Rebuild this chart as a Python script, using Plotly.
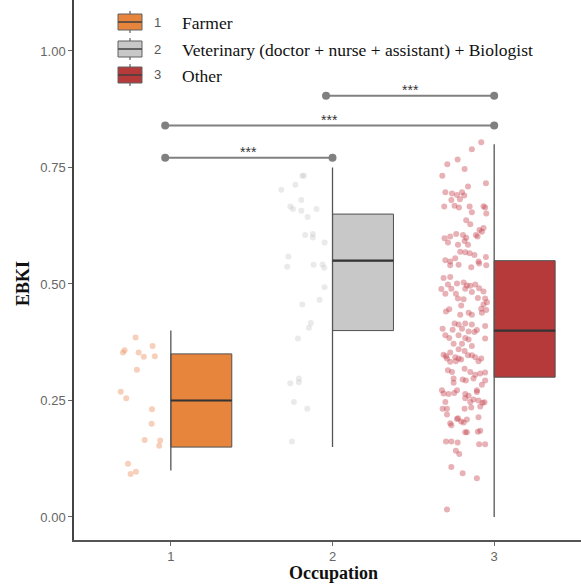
import plotly.graph_objects as go

# ---------------- data ----------------
categories = [1, 2, 3]
tick_labels = ["1", "2", "3"]
group_names = ["Farmer", "Veterinary (doctor + nurse + assistant) + Biologist", "Other"]

q1 = [0.15, 0.40, 0.30]
median = [0.25, 0.55, 0.40]
q3 = [0.35, 0.65, 0.55]
lower = [0.10, 0.15, 0.00]
upper = [0.40, 0.75, 0.80]

# jittered raw points: offset from category position, and EBKI value
g1_jit = [-0.218, -0.286, -0.296, -0.199, -0.167, -0.113, -0.099, -0.210, -0.310, -0.276,
          -0.117, -0.119, -0.162, -0.066, -0.072, -0.265, -0.216, -0.249]
g1_val = [0.385, 0.358, 0.353, 0.353, 0.344, 0.367, 0.345, 0.316, 0.269, 0.255,
          0.231, 0.200, 0.165, 0.164, 0.153, 0.114, 0.097, 0.092]

g2_jit = [-0.187, -0.177, -0.230, -0.317, -0.193, -0.261, -0.245, -0.193, -0.099, -0.154,
          -0.169, -0.122, -0.122, -0.049, -0.273, -0.280, -0.117, -0.062, -0.051, -0.049,
          -0.080, -0.187, -0.134, -0.146, -0.214, -0.208, -0.208, -0.261, -0.239, -0.156,
          -0.251]
g2_val = [0.732, 0.732, 0.713, 0.702, 0.680, 0.666, 0.661, 0.657, 0.661, 0.644,
          0.605, 0.607, 0.600, 0.589, 0.559, 0.537, 0.541, 0.542, 0.535, 0.493,
          0.466, 0.456, 0.416, 0.406, 0.383, 0.297, 0.289, 0.287, 0.247, 0.232,
          0.162]

g3_jit = [-0.080, -0.138, -0.226, -0.290, -0.183, -0.321, -0.051, -0.162, -0.302, -0.261,
          -0.230, -0.199, -0.185, -0.212, -0.265, -0.309, -0.245, -0.218, -0.152, -0.138,
          -0.066, -0.056, -0.049, -0.173, -0.148, -0.091, -0.307, -0.286, -0.272, -0.235,
          -0.193, -0.173, -0.183, -0.113, -0.103, -0.076, -0.066, -0.224, -0.162, -0.210,
          -0.179, -0.152, -0.122, -0.302, -0.272, -0.241, -0.097, -0.051,
          -0.272, -0.220, -0.142, -0.093, -0.049, -0.313, -0.272, -0.286, -0.230, -0.189,
          -0.169, -0.148, -0.117, -0.093, -0.327, -0.265, -0.179, -0.302, -0.237, -0.138,
          -0.066, -0.224, -0.189, -0.101, -0.056, -0.045, -0.204, -0.066, -0.080, -0.049,
          -0.298, -0.278, -0.210, -0.158, -0.138, -0.076, -0.245, -0.220, -0.179, -0.138,
          -0.199, -0.319, -0.257, -0.158, -0.122, -0.107, -0.056, -0.302, -0.278, -0.220,
          -0.179, -0.158, -0.056, -0.251, -0.199, -0.138, -0.220, -0.183, -0.313, -0.292,
          -0.298, -0.272, -0.241, -0.220, -0.204, -0.162, -0.138, -0.117, -0.097, -0.080,
          -0.272, -0.237, -0.286, -0.261, -0.183, -0.148, -0.117, -0.086, -0.056, -0.251,
          -0.195, -0.175, -0.128, -0.056, -0.251, -0.076, -0.323, -0.230, -0.107,
          -0.313, -0.282, -0.247, -0.179, -0.158, -0.107, -0.179, -0.128, -0.148, -0.097,
          -0.072, -0.060, -0.302, -0.086, -0.142, -0.183, -0.319, -0.292, -0.292, -0.224,
          -0.230, -0.204, -0.169, -0.272, -0.265, -0.189, -0.097, -0.179, -0.169, -0.101,
          -0.086, -0.298, -0.265, -0.226, -0.093, -0.056, -0.237, -0.216, -0.265, -0.195,
          -0.107, -0.292]
g3_val = [0.804, 0.789, 0.767, 0.757, 0.747, 0.732, 0.716, 0.709, 0.697, 0.694,
          0.691, 0.697, 0.690, 0.682, 0.680, 0.666, 0.668, 0.664, 0.666, 0.654,
          0.667, 0.664, 0.651, 0.637, 0.628, 0.616, 0.598, 0.589, 0.602, 0.607,
          0.605, 0.599, 0.592, 0.605, 0.602, 0.612, 0.620, 0.584, 0.584, 0.569,
          0.568, 0.566, 0.562, 0.551, 0.548, 0.555, 0.548, 0.558,
          0.540, 0.541, 0.536, 0.544, 0.540, 0.513, 0.515, 0.499, 0.501, 0.503,
          0.497, 0.496, 0.499, 0.491, 0.489, 0.490, 0.490, 0.479, 0.479, 0.483,
          0.484, 0.469, 0.467, 0.470, 0.469, 0.461, 0.454, 0.456, 0.447, 0.444,
          0.441, 0.446, 0.434, 0.438, 0.434, 0.438, 0.415, 0.413, 0.415, 0.413,
          0.404, 0.404, 0.402, 0.398, 0.397, 0.401, 0.410, 0.390, 0.384, 0.390,
          0.384, 0.381, 0.383, 0.372, 0.372, 0.367, 0.360, 0.356, 0.348, 0.340,
          0.345, 0.353, 0.343, 0.340, 0.338, 0.347, 0.347, 0.343, 0.334, 0.340,
          0.333, 0.334, 0.315, 0.311, 0.318, 0.311, 0.305, 0.308, 0.310, 0.297,
          0.295, 0.293, 0.297, 0.293, 0.288, 0.284, 0.272, 0.272, 0.272,
          0.265, 0.264, 0.266, 0.264, 0.260, 0.268, 0.255, 0.252, 0.247, 0.250,
          0.245, 0.246, 0.247, 0.237, 0.235, 0.232, 0.232, 0.232, 0.220, 0.212,
          0.210, 0.205, 0.209, 0.201, 0.197, 0.203, 0.214, 0.182, 0.182, 0.183,
          0.185, 0.162, 0.162, 0.160, 0.156, 0.156, 0.142, 0.135, 0.107, 0.094,
          0.083, 0.016]

# significance comparisons: (start, end, height, label)
comp_start = [0.965, 0.965, 1.96]
comp_end = [2.0, 3.0, 3.0]
comp_y = [0.771, 0.840, 0.904]
comp_label = ["***", "***", "***"]

# ---------------- styles ----------------
box_fill = ["#E8853D", "#C8C8C8", "#B63A3A"]
point_col = ["rgba(238,150,105,0.45)", "rgba(195,195,195,0.35)", "rgba(196,60,72,0.40)"]
box_width = 0.377

jits = [g1_jit, g2_jit, g3_jit]
vals = [g1_val, g2_val, g3_val]

fig = go.Figure()

for i, c in enumerate(categories):
    # jittered points
    fig.add_trace(go.Scatter(
        x=[c + j for j in jits[i]], y=vals[i], mode="markers",
        marker=dict(size=6, color=point_col[i], line=dict(width=0)),
        showlegend=False, hoverinfo="skip"))
    # whisker along left edge of the box
    fig.add_trace(go.Scatter(
        x=[c, c], y=[lower[i], upper[i]], mode="lines",
        line=dict(color="#555555", width=1.3), showlegend=False, hoverinfo="skip"))
    # half box drawn to the right of the category
    fig.add_trace(go.Box(
        x=[c + box_width / 2], q1=[q1[i]], median=[median[i]], q3=[q3[i]],
        lowerfence=[q1[i]], upperfence=[q3[i]], width=box_width,
        fillcolor=box_fill[i], line=dict(color="#505050", width=1),
        whiskerwidth=0, boxpoints=False, showlegend=False, hoverinfo="skip"))
    # thicker median line
    fig.add_trace(go.Scatter(
        x=[c, c + box_width], y=[median[i], median[i]], mode="lines",
        line=dict(color="#333333", width=2.2), showlegend=False, hoverinfo="skip"))

# significance brackets
for s, e, h, lab in zip(comp_start, comp_end, comp_y, comp_label):
    fig.add_trace(go.Scatter(
        x=[s, e], y=[h, h], mode="lines+markers",
        line=dict(color="#808080", width=2),
        marker=dict(size=8, color="#808080"),
        showlegend=False, hoverinfo="skip"))
    fig.add_annotation(x=(s + e) / 2, y=h, text=lab, showarrow=False,
                       yanchor="bottom", yshift=-4,
                       font=dict(family="Liberation Sans, Arial", size=14, color="#333333"))

# ---------------- layout ----------------
W, H = 581, 585
L, R, T, B = 74, 0, 0, 45
PW, PH = W - L - R, H - T - B


def px(xp):
    return (xp - L) / PW


def py(yp):
    return (H - B - yp) / PH


# manual legend (top-left)
row_y = [22, 49, 75]
shapes = []
for i in range(3):
    cy = row_y[i]
    shapes.append(dict(type="line", xref="paper", yref="paper",
                       x0=px(130), x1=px(130), y0=py(cy - 11), y1=py(cy + 11),
                       line=dict(color="#606060", width=1.2)))
    shapes.append(dict(type="rect", xref="paper", yref="paper",
                       x0=px(118), x1=px(142), y0=py(cy - 8), y1=py(cy + 8),
                       fillcolor=box_fill[i], line=dict(color="#606060", width=1)))
    shapes.append(dict(type="line", xref="paper", yref="paper",
                       x0=px(118), x1=px(142), y0=py(cy), y1=py(cy),
                       line=dict(color="#404040", width=1.5)))
    fig.add_annotation(xref="paper", yref="paper", x=px(157), y=py(cy),
                       text=tick_labels[i], showarrow=False, xanchor="center", yanchor="middle",
                       font=dict(family="Liberation Sans, Arial", size=13, color="#555555"))
    fig.add_annotation(xref="paper", yref="paper", x=px(180), y=py(cy + 1),
                       text=group_names[i], showarrow=False, xanchor="left", yanchor="middle",
                       font=dict(family="Liberation Serif, Times New Roman", size=17.5, color="#111111"))

# axis titles
fig.add_annotation(xref="paper", yref="paper", x=px(333), y=py(573),
                   text="<b>Occupation</b>", showarrow=False, xanchor="center", yanchor="middle",
                   font=dict(family="Liberation Serif, Times New Roman", size=18, color="#111111"))
fig.add_annotation(xref="paper", yref="paper", x=px(23), y=py(284),
                   text="<b>EBKI</b>", showarrow=False, textangle=-90,
                   xanchor="center", yanchor="middle",
                   font=dict(family="Liberation Serif, Times New Roman", size=18, color="#111111"))

fig.update_layout(
    width=W, height=H,
    margin=dict(l=L, r=R, t=T, b=B, pad=0),
    paper_bgcolor="white", plot_bgcolor="white",
    shapes=shapes,
    showlegend=False,
    xaxis=dict(range=[0.401, 3.537], tickvals=categories, ticktext=tick_labels,
               showline=True, linecolor="#555555", linewidth=1.5,
               ticks="outside", ticklen=4, tickcolor="#666666",
               showgrid=False, zeroline=False,
               tickfont=dict(family="Liberation Sans, Arial", size=13, color="#666666")),
    yaxis=dict(range=[-0.0494, 1.1094], tickvals=[0, 0.25, 0.5, 0.75, 1.0],
               ticktext=["0.00", "0.25", "0.50", "0.75", "1.00"],
               showline=True, linecolor="#444444", linewidth=1.5,
               ticks="outside", ticklen=4, tickcolor="#666666",
               showgrid=False, zeroline=False,
               tickfont=dict(family="Liberation Sans, Arial", size=13, color="#666666")),
)

fig.write_html("out.html", config={"displayModeBar": False},
               post_script="document.body.style.margin='0';")
